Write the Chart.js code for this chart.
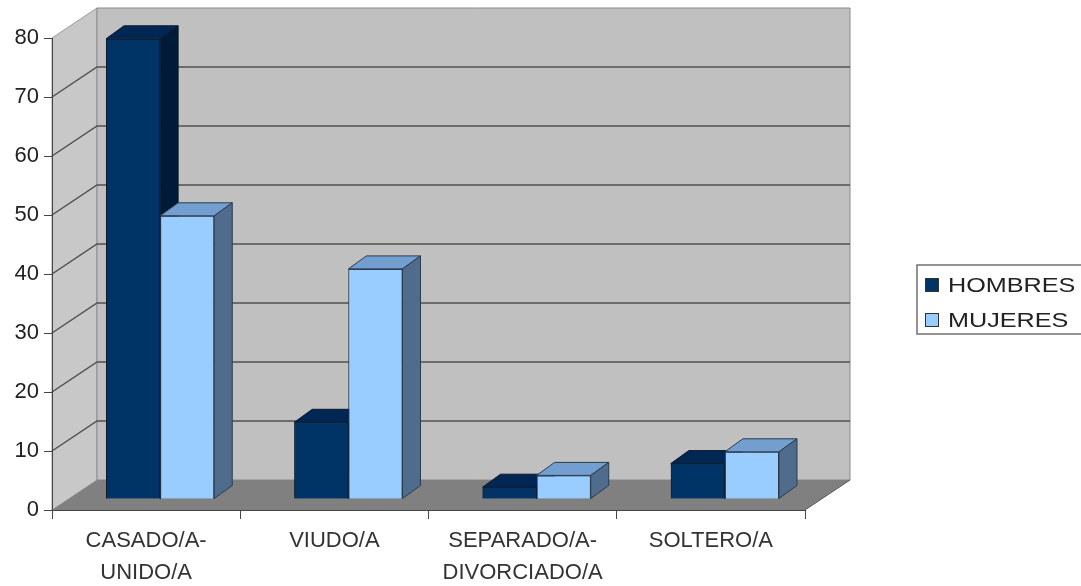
<!DOCTYPE html>
<html>
<head>
<meta charset="utf-8">
<script src="https://cdn.jsdelivr.net/npm/chart.js@4/dist/chart.umd.min.js"></script>
<style>
  body { margin: 0; background: #fff; }
  #wrap { width: 1081px; height: 586px; }
</style>
</head>
<body>
<div id="wrap"><canvas id="chart"></canvas></div>
<script>
// data
const categories = [['CASADO/A-', 'UNIDO/A'], 'VIUDO/A', ['SEPARADO/A-', 'DIVORCIADO/A'], 'SOLTERO/A'];
const hombres = [78, 13, 2, 6];
const mujeres = [48, 39, 4, 8];
const seriesNames = ['HOMBRES', 'MUJERES'];

// 3d look
const DEPTH_X = 45, DEPTH_Y = -30;   // depth of the walls
const SHIFT_X = 14, SHIFT_Y = -11;   // bars sit a bit behind the front plane
const BAR_DX = 18, BAR_DY = -13;     // depth of each bar
const FONT = 'Liberation Sans, Arial, sans-serif';

function poly(ctx, pts, fill, stroke, lw) {
  ctx.beginPath();
  ctx.moveTo(pts[0][0], pts[0][1]);
  for (let i = 1; i < pts.length; i++) ctx.lineTo(pts[i][0], pts[i][1]);
  ctx.closePath();
  if (fill) { ctx.fillStyle = fill; ctx.fill(); }
  if (stroke) { ctx.strokeStyle = stroke; ctx.lineWidth = lw || 1; ctx.stroke(); }
}

const box3d = {
  id: 'box3d',
  beforeDraw(chart) {
    const { ctx, chartArea: a, scales: { y } } = chart;
    ctx.save();
    // left wall
    poly(ctx, [[a.left, a.bottom], [a.left, a.top], [a.left + DEPTH_X, a.top + DEPTH_Y], [a.left + DEPTH_X, a.bottom + DEPTH_Y]], '#c8c8c8', '#9a9a9a', 1);
    // back wall
    poly(ctx, [[a.left + DEPTH_X, a.top + DEPTH_Y], [a.right + DEPTH_X, a.top + DEPTH_Y], [a.right + DEPTH_X, a.bottom + DEPTH_Y], [a.left + DEPTH_X, a.bottom + DEPTH_Y]], '#c0c0c0', '#8a8a8a', 1);
    // floor
    poly(ctx, [[a.left, a.bottom], [a.right, a.bottom], [a.right + DEPTH_X, a.bottom + DEPTH_Y], [a.left + DEPTH_X, a.bottom + DEPTH_Y]], '#808080', null);
    ctx.beginPath();
    ctx.moveTo(a.right, a.bottom);
    ctx.lineTo(a.right + DEPTH_X, a.bottom + DEPTH_Y);
    ctx.strokeStyle = '#555';
    ctx.lineWidth = 1;
    ctx.stroke();
    // grid lines on left and back walls
    ctx.strokeStyle = '#505050';
    ctx.lineWidth = 1.5;
    y.ticks.forEach(t => {
      if (t.value <= y.min || t.value >= y.max) return;
      const py = y.getPixelForValue(t.value);
      ctx.beginPath();
      ctx.moveTo(a.left, py);
      ctx.lineTo(a.left + DEPTH_X, py + DEPTH_Y);
      ctx.lineTo(a.right + DEPTH_X, py + DEPTH_Y);
      ctx.stroke();
    });
    ctx.restore();
  },
  beforeDatasetsDraw(chart) {
    chart.ctx.save();
    chart.ctx.translate(SHIFT_X, SHIFT_Y);
  },
  afterDatasetsDraw(chart) {
    // chart.js paints the last dataset first; repaint front-to-back order
    // with top and side faces so each bar covers the one left of it
    const { ctx } = chart;
    chart.data.datasets.forEach((ds, i) => {
      chart.getDatasetMeta(i).data.forEach(el => {
        el.draw(ctx);
        const { x, y, base, width } = el.getProps(['x', 'y', 'base', 'width'], true);
        const x1 = x - width / 2, x2 = x + width / 2;
        poly(ctx, [[x1, y], [x1 + BAR_DX, y + BAR_DY], [x2 + BAR_DX, y + BAR_DY], [x2, y]], ds.topColor, ds.borderColor, 1);
        poly(ctx, [[x2, y], [x2 + BAR_DX, y + BAR_DY], [x2 + BAR_DX, base + BAR_DY], [x2, base]], ds.sideColor, ds.borderColor, 1);
      });
    });
    ctx.restore();
  },
  afterDraw(chart) {
    // legend box on the right
    const { ctx } = chart;
    ctx.save();
    ctx.strokeStyle = '#707070';
    ctx.lineWidth = 1.5;
    ctx.strokeRect(917, 265, 170, 69);
    chart.data.datasets.forEach((ds, i) => {
      const cy = 285 + i * 35;
      ctx.fillStyle = ds.backgroundColor;
      ctx.fillRect(925, cy - 7, 14, 14);
      ctx.strokeStyle = '#333';
      ctx.lineWidth = 1;
      ctx.strokeRect(925.5, cy - 6.5, 13, 13);
      ctx.save();
      ctx.translate(948, cy);
      ctx.scale(1.2, 1);
      ctx.fillStyle = '#222';
      ctx.font = '21px ' + FONT;
      ctx.textBaseline = 'middle';
      ctx.fillText(ds.label, 0, 1);
      ctx.restore();
    });
    ctx.restore();
  }
};

new Chart(document.getElementById('chart'), {
  type: 'bar',
  data: {
    labels: categories,
    datasets: [
      {
        label: seriesNames[0],
        data: hombres,
        backgroundColor: '#003366',
        topColor: '#002754',
        sideColor: '#001a38',
        borderColor: '#0d1b2b',
        borderWidth: 1
      },
      {
        label: seriesNames[1],
        data: mujeres,
        backgroundColor: '#99ccff',
        topColor: '#729fd0',
        sideColor: '#506c8c',
        borderColor: '#2c3b4c',
        borderWidth: 1
      }
    ]
  },
  options: {
    responsive: true,
    maintainAspectRatio: false,
    animation: false,
    events: [],
    layout: { padding: { top: 38, right: 276, left: 0, bottom: 0 } },
    datasets: { bar: { categoryPercentage: 0.575, barPercentage: 1, clip: false } },
    plugins: {
      legend: { display: false },
      tooltip: { enabled: false }
    },
    scales: {
      x: {
        grid: { offset: true, drawOnChartArea: false, tickLength: 9, color: '#444' },
        border: { color: '#444', width: 1 },
        ticks: {
          font: { family: FONT, size: 22, lineHeight: 1.45 },
          color: '#333',
          padding: 6,
          maxRotation: 0,
          autoSkip: false
        },
        afterFit(scale) { scale.height = 76; }
      },
      y: {
        min: 0,
        max: 80,
        grid: { drawOnChartArea: false, tickLength: 8, color: '#444' },
        border: { color: '#444', width: 1 },
        ticks: {
          stepSize: 10,
          font: { family: FONT, size: 22 },
          color: '#222',
          padding: 5
        },
        afterFit(scale) { scale.width = 52; }
      }
    }
  },
  plugins: [box3d]
});
</script>
</body>
</html>
